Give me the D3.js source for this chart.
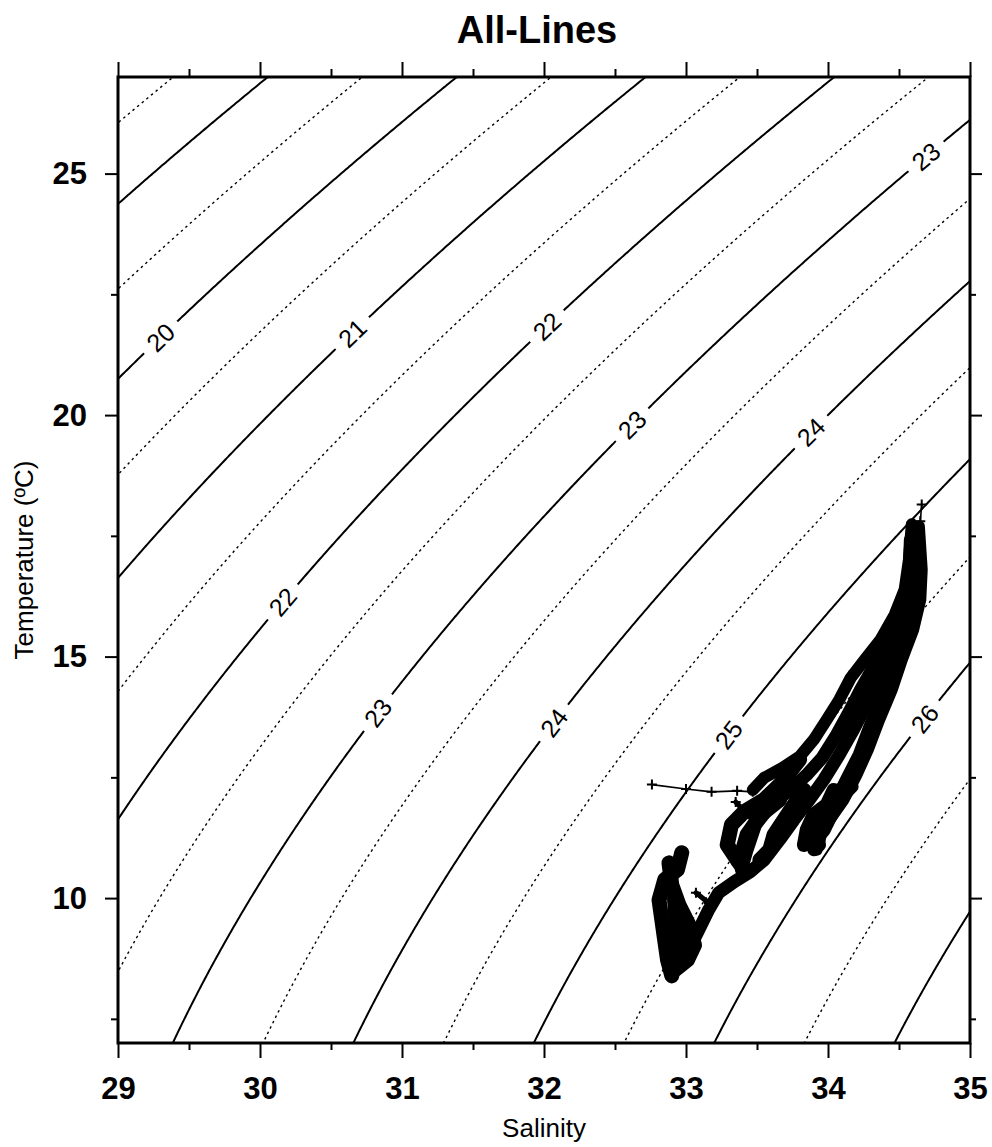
<!DOCTYPE html>
<html lang="en">
<head>
<meta charset="UTF-8">
<title>All-Lines</title>
<script src="https://d3js.org/d3.v7.min.js"></script>
<style>
  body { margin: 0; background: #fff; }
  svg { display: block; font-family: "Liberation Sans", Arial, Helvetica, sans-serif; }
  .frame { fill: none; stroke: #000; stroke-width: 3; }
  .iso { fill: none; stroke: #000; }
  .iso-solid { stroke-width: 2; }
  .iso-dot { stroke-width: 1.4; stroke-dasharray: 2.5 3.5; }
  .iso-label { font-size: 25px; fill: #000; }
  .axis line { stroke: #000; stroke-width: 2; }
  .axis text { font-family: "Liberation Sans", Arial, sans-serif; font-size: 31px; font-weight: bold; fill: #000; }
  .cast { fill: none; stroke: #000; stroke-linejoin: round; stroke-linecap: round; }
  .mark { fill: none; stroke: #000; stroke-width: 2; }
</style>
</head>
<body>
<svg id="chart" width="992" height="1147"></svg>
<script>
// axis ranges and ticks
const salRange = [29, 35];
const tempRange = [7, 27];
const salTicks = [29, 30, 31, 32, 33, 34, 35];
const salMinor = [29.5, 30.5, 31.5, 32.5, 33.5, 34.5];
const tempTicks = [10, 15, 20, 25];
const tempMinor = [7.5, 12.5, 17.5, 22.5];

// sigma-t isopycnals: whole values solid, half values dotted
const sigmaLevels = [16.5, 17, 17.5, 18, 18.5, 19, 19.5, 20, 20.5, 21, 21.5, 22, 22.5,
                     23, 23.5, 24, 24.5, 25, 25.5, 26, 26.5, 27, 27.5, 28, 28.5];

// contour labels: [sigma level, salinity where label sits]
const contourLabels = [
  [20, 29.30], [21, 30.65], [22, 32.02], [22, 30.16],
  [23, 32.62], [23, 30.83], [23, 34.69], [24, 33.88],
  [24, 32.07], [25, 33.30], [26, 34.68]
];

// station profiles [salinity, temperature]
const castTop = [[34.66, 18.15], [34.65, 17.80]];
const cast1 = [[34.64, 17.70], [34.66, 16.80], [34.65, 16.18], [34.60, 15.56], [34.52, 14.94],
               [34.45, 14.32], [34.36, 13.69], [34.28, 13.07], [34.20, 12.55], [34.11, 12.04],
               [34.01, 11.62], [33.95, 11.31], [33.92, 11.00]];
const cast2 = [[34.59, 17.74], [34.57, 17.01], [34.54, 16.39], [34.47, 15.87], [34.37, 15.35],
               [34.26, 14.94], [34.16, 14.56], [34.08, 14.11], [33.99, 13.69], [33.90, 13.28],
               [33.80, 12.93], [33.68, 12.70], [33.55, 12.49], [33.47, 12.24]];
const cast3 = [[34.61, 17.63], [34.61, 16.60], [34.58, 15.97], [34.50, 15.35], [34.39, 14.73],
               [34.29, 14.11], [34.18, 13.49], [34.08, 12.97], [33.97, 12.45], [33.87, 12.04],
               [33.76, 11.62], [33.66, 11.21], [33.55, 10.79], [33.45, 10.54], [33.34, 10.34],
               [33.23, 10.11], [33.16, 9.76], [33.09, 9.34], [33.02, 8.93]];
const cast4 = [[33.80, 12.87], [33.66, 12.35], [33.55, 12.04], [33.41, 11.79], [33.32, 11.52],
               [33.29, 11.10], [33.36, 10.79], [33.41, 10.59]];
const cast5 = [[32.97, 10.94], [32.94, 10.59], [32.85, 10.38], [32.81, 9.96], [32.83, 9.55],
               [32.85, 9.13], [32.87, 8.72], [32.90, 8.39]];
const cast6 = [[32.88, 10.73], [32.90, 10.27], [32.95, 9.86], [33.02, 9.45], [33.06, 9.03],
               [33.01, 8.72], [32.92, 8.51]];
const cast7 = [[34.17, 12.31], [34.08, 12.04], [33.97, 11.83], [33.92, 11.52], [33.94, 11.10],
               [33.90, 11.00]];
const cast8 = [[32.92, 10.00], [32.93, 9.50], [32.95, 9.00], [32.93, 8.60]];
const cast9 = [[33.35, 11.99], [33.45, 11.68]];
const cast10 = [[33.07, 10.11], [33.16, 9.90]];
const cast11 = [[34.18, 14.69], [34.27, 14.94]];
const cast12 = [[34.58, 17.42], [34.57, 16.60], [34.51, 15.87], [34.43, 15.35], [34.33, 14.83],
                [34.23, 14.32], [34.15, 13.86], [34.06, 13.38], [33.96, 12.91], [33.85, 12.55],
                [33.73, 12.24], [33.60, 11.93], [33.49, 11.52], [33.43, 11.00], [33.39, 10.59]];
const cast13 = [[34.64, 17.01], [34.63, 16.18], [34.56, 15.46], [34.47, 14.83], [34.39, 14.21],
                [34.30, 13.59], [34.22, 12.97], [34.13, 12.45], [34.04, 11.93], [33.95, 11.41]];
const cast14 = [[33.83, 12.24], [33.76, 11.93], [33.69, 11.62], [33.62, 11.31], [33.59, 11.00],
                [33.52, 10.79]];
const cast15 = [[34.04, 12.24], [33.99, 11.93], [33.90, 11.73], [33.85, 11.41], [33.83, 11.10]];
const cast16 = [[33.66, 12.04], [33.53, 11.73], [33.43, 11.31], [33.39, 10.90]];
const cast17 = [[34.11, 12.24], [34.04, 11.83], [33.97, 11.41], [33.88, 11.10]];
const cast18 = [[32.92, 9.96], [32.97, 9.45], [32.95, 8.93]];
const surfaceTrack = [[32.76, 12.35], [33.00, 12.26], [33.18, 12.20], [33.36, 12.22], [33.47, 12.20]];

// UNESCO 1981 (EOS-80) density at surface pressure, minus 1000
function sigmaT(S, T) {
  const rw = 999.842594 + 6.793952e-2 * T - 9.095290e-3 * T * T + 1.001685e-4 * T ** 3
           - 1.120083e-6 * T ** 4 + 6.536332e-9 * T ** 5;
  const A = 8.24493e-1 - 4.0899e-3 * T + 7.6438e-5 * T * T - 8.2467e-7 * T ** 3 + 5.3875e-9 * T ** 4;
  const B = -5.72466e-3 + 1.0227e-4 * T - 1.6546e-6 * T * T;
  const C = 4.8314e-4;
  return rw + A * S + B * S ** 1.5 + C * S * S - 1000;
}

const svg = d3.select("#chart");
const plot = { left: 118, right: 970, top: 77, bottom: 1043 };

const x = d3.scaleLinear().domain(salRange).range([plot.left, plot.right]);
const y = d3.scaleLinear().domain(tempRange).range([plot.bottom, plot.top]);

svg.append("rect").attr("width", 992).attr("height", 1147).attr("fill", "#fff");

svg.append("clipPath").attr("id", "plot-clip")
  .append("rect")
  .attr("x", plot.left).attr("y", plot.top)
  .attr("width", plot.right - plot.left).attr("height", plot.bottom - plot.top);

// density grid, a bit wider than the plot so edge rings fall outside the clip
const gS0 = 28.7, gS1 = 35.3, gT0 = 6.0, gT1 = 28.0;
const nx = 331, ny = 441;
const dS = (gS1 - gS0) / (nx - 1), dT = (gT1 - gT0) / (ny - 1);
const grid = new Float64Array(nx * ny);
for (let j = 0; j < ny; j++) {
  for (let i = 0; i < nx; i++) {
    grid[j * nx + i] = sigmaT(gS0 + i * dS, gT0 + j * dT);
  }
}
const isos = d3.contours().size([nx, ny]).thresholds(sigmaLevels)(grid);

const ringLine = d3.line()
  .x(p => x(gS0 + (p[0] - 0.5) * dS))
  .y(p => y(gT0 + (p[1] - 0.5) * dT));

const isoG = svg.append("g").attr("clip-path", "url(#plot-clip)");
isos.forEach(c => {
  const whole = Math.abs(c.value - Math.round(c.value)) < 1e-6;
  c.coordinates.forEach(poly => poly.forEach(ring => {
    isoG.append("path")
      .attr("class", "iso " + (whole ? "iso-solid" : "iso-dot"))
      .attr("d", ringLine(ring));
  }));
});

// contour labels, snapped onto their isopycnal
function tempOnLevel(level, S) {
  let lo = 0, hi = 40;
  for (let k = 0; k < 60; k++) {
    const mid = (lo + hi) / 2;
    if (sigmaT(S, mid) > level) lo = mid; else hi = mid;
  }
  return (lo + hi) / 2;
}
const kx = (x(salRange[1]) - x(salRange[0])) / (salRange[1] - salRange[0]);
const ky = (y(tempRange[1]) - y(tempRange[0])) / (tempRange[1] - tempRange[0]);

const labelG = svg.append("g");
contourLabels.forEach(([level, S]) => {
  const T = tempOnLevel(level, S);
  const h = 0.01;
  const gx = (sigmaT(S + h, T) - sigmaT(S - h, T)) / (2 * h) / kx;
  const gy = (sigmaT(S, T + h) - sigmaT(S, T - h)) / (2 * h) / ky;
  let tx = gy, ty = -gx;
  if (tx < 0) { tx = -tx; ty = -ty; }
  const ang = Math.atan2(ty, tx) * 180 / Math.PI;
  const g = labelG.append("g")
    .attr("transform", `translate(${x(S)},${y(T)}) rotate(${ang})`);
  g.append("rect")
    .attr("x", -23).attr("y", -11).attr("width", 46).attr("height", 22)
    .attr("fill", "#fff");
  g.append("text")
    .attr("class", "iso-label")
    .attr("text-anchor", "middle")
    .attr("dy", "0.36em")
    .text(level);
});

// station data
const castLine = d3.line().x(d => x(d[0])).y(d => y(d[1]));
const dataG = svg.append("g").attr("clip-path", "url(#plot-clip)");

const thickCasts = [
  [cast1, 12], [cast2, 12], [cast3, 13], [cast12, 13], [cast13, 13],
  [cast4, 15], [cast5, 15], [cast6, 15], [cast7, 13], [cast8, 15],
  [cast14, 15], [cast15, 14], [cast16, 15], [cast17, 14], [cast18, 15],
  [cast9, 5], [cast10, 5], [cast11, 4]
];
thickCasts.forEach(([pts, w]) => {
  dataG.append("path").datum(pts).attr("class", "cast")
    .attr("stroke-width", w).attr("d", castLine);
});
[castTop, surfaceTrack].forEach(pts => {
  dataG.append("path").datum(pts).attr("class", "cast")
    .attr("stroke-width", 1.6).attr("d", castLine);
});

const allPts = [castTop, cast1, cast2, cast3, cast4, cast5, cast6, cast7, cast8, cast9,
                cast10, cast11, cast12, cast13, cast14, cast15, cast16, cast17, cast18,
                surfaceTrack].flat();
dataG.selectAll(".mark").data(allPts).enter().append("path")
  .attr("class", "mark")
  .attr("transform", d => `translate(${x(d[0])},${y(d[1])})`)
  .attr("d", "M-5,0H5M0,-5V5");

// axes
function styleAxis(g) {
  g.attr("class", "axis");
  g.select(".domain").remove();
  g.selectAll("text").attr("font-size", null).attr("font-family", null);
}
svg.append("g").attr("transform", `translate(0,${plot.bottom})`)
  .call(d3.axisBottom(x).tickValues(salTicks).tickSize(15).tickPadding(19).tickFormat(d3.format("d")))
  .call(styleAxis);
svg.append("g").attr("transform", `translate(0,${plot.bottom})`)
  .call(d3.axisBottom(x).tickValues(salMinor).tickSize(7).tickFormat(""))
  .call(styleAxis);
svg.append("g").attr("transform", `translate(0,${plot.top})`)
  .call(d3.axisTop(x).tickValues(salTicks).tickSize(15).tickFormat(""))
  .call(styleAxis);
svg.append("g").attr("transform", `translate(0,${plot.top})`)
  .call(d3.axisTop(x).tickValues(salMinor).tickSize(8).tickFormat(""))
  .call(styleAxis);
svg.append("g").attr("transform", `translate(${plot.left},0)`)
  .call(d3.axisLeft(y).tickValues(tempTicks).tickSize(13).tickPadding(18).tickFormat(d3.format("d")))
  .call(styleAxis);
svg.append("g").attr("transform", `translate(${plot.left},0)`)
  .call(d3.axisLeft(y).tickValues(tempMinor).tickSize(7).tickFormat(""))
  .call(styleAxis);
svg.append("g").attr("transform", `translate(${plot.right},0)`)
  .call(d3.axisRight(y).tickValues(tempTicks).tickSize(12).tickFormat(""))
  .call(styleAxis);
svg.append("g").attr("transform", `translate(${plot.right},0)`)
  .call(d3.axisRight(y).tickValues(tempMinor).tickSize(6).tickFormat(""))
  .call(styleAxis);

svg.append("rect").attr("class", "frame")
  .attr("x", plot.left).attr("y", plot.top)
  .attr("width", plot.right - plot.left).attr("height", plot.bottom - plot.top);

// titles
svg.append("text")
  .attr("x", 537).attr("y", 43)
  .attr("text-anchor", "middle")
  .attr("font-size", 38).attr("font-weight", "bold")
  .text("All-Lines");

svg.append("text")
  .attr("x", (plot.left + plot.right) / 2).attr("y", 1137)
  .attr("text-anchor", "middle")
  .attr("font-size", 26)
  .text("Salinity");

svg.append("text")
  .attr("transform", `translate(33,${(plot.top + plot.bottom) / 2}) rotate(-90)`)
  .attr("text-anchor", "middle")
  .attr("font-size", 26)
  .text("Temperature (ºC)");
</script>
</body>
</html>
